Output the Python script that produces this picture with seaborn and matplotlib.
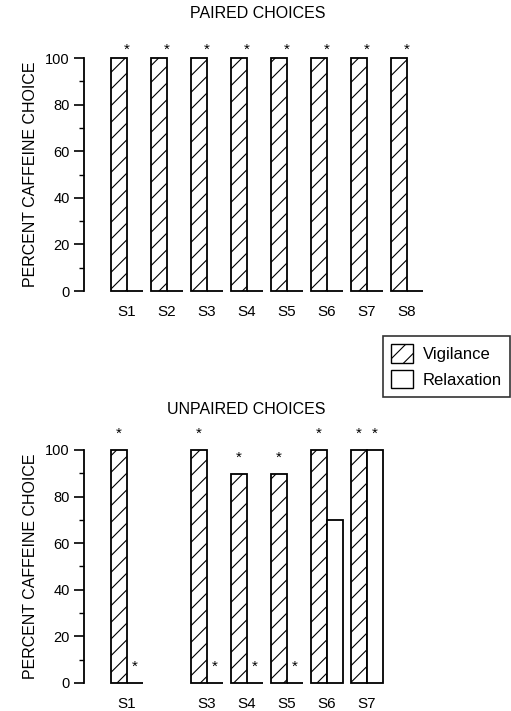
import pandas as pd
import numpy as np
import matplotlib.pyplot as plt
import seaborn as sns
from matplotlib.patches import Patch
from matplotlib.ticker import MultipleLocator

sns.set_style("ticks", {'text.color': 'black', 'axes.labelcolor': 'black',
                        'xtick.color': 'black', 'ytick.color': 'black',
                        'axes.edgecolor': 'black'})
plt.rcParams['font.family'] = ['Liberation Sans', 'DejaVu Sans']
plt.rcParams['hatch.linewidth'] = 0.8

# data
paired_subjects = ['S1', 'S2', 'S3', 'S4', 'S5', 'S6', 'S7', 'S8']
paired_vigilance = [100, 100, 100, 100, 100, 100, 100, 100]
paired_relaxation = [0, 0, 0, 0, 0, 0, 0, 0]

unpaired_order = ['S1', 'S2', 'S3', 'S4', 'S5', 'S6', 'S7']
unpaired_subjects = ['S1', 'S3', 'S4', 'S5', 'S6', 'S7']
unpaired_vigilance = [100, 100, 89.5, 89.5, 100, 100]
unpaired_relaxation = [0, 0, 0, 0, 70, 100]

conditions = ['Vigilance', 'Relaxation']


def long_df(subjects, vig, rel):
    return pd.DataFrame({
        'subject': subjects * 2,
        'condition': ['Vigilance'] * len(subjects) + ['Relaxation'] * len(subjects),
        'value': list(vig) + list(rel),
    })


fig = plt.figure(figsize=(5.11, 7.11), dpi=100)
ax1 = fig.add_axes([0.164, 0.5907, 0.679, 0.3277])
ax2 = fig.add_axes([0.164, 0.0394, 0.679, 0.3277])


def draw(ax, df, order):
    sns.barplot(data=df, x='subject', y='value', hue='condition', order=order,
                hue_order=conditions, palette=['white', 'white'], edgecolor='black',
                linewidth=1.3, width=0.8, legend=False, ax=ax)
    for i, p in enumerate(ax.patches):
        p.set_clip_on(False)
        if i < len(order):
            p.set_hatch('//')
    ax.set_xlim(-1.075, 7.6)
    ax.set_ylim(0, 100)
    ax.yaxis.set_major_locator(MultipleLocator(20))
    ax.yaxis.set_minor_locator(MultipleLocator(10))
    ax.tick_params(axis='y', which='major', length=7, width=1.2, labelsize=10.5, pad=3)
    ax.tick_params(axis='y', which='minor', length=3.5, width=1.0)
    ax.tick_params(axis='x', length=0, labelsize=11, pad=10)
    ax.set_xlabel('')
    ax.set_ylabel('PERCENT CAFFEINE CHOICE', fontsize=11.5, labelpad=5)
    for s in ['top', 'right', 'bottom']:
        ax.spines[s].set_visible(False)
    ax.spines['left'].set_linewidth(1.3)


draw(ax1, long_df(paired_subjects, paired_vigilance, paired_relaxation), paired_subjects)
draw(ax2, long_df(unpaired_subjects, unpaired_vigilance, unpaired_relaxation), unpaired_order)
ax2.set_xticks(range(len(unpaired_order)))
ax2.set_xticklabels(['S1', '', 'S3', 'S4', 'S5', 'S6', 'S7'])

fig.text(258 / 511, 1 - 14 / 711, 'PAIRED CHOICES', ha='center', va='center', fontsize=11.5)
fig.text(246 / 511, 1 - 410 / 711, 'UNPAIRED CHOICES', ha='center', va='center', fontsize=11.5)

# significance asterisks
for i in range(len(paired_subjects)):
    ax1.text(i, 100.5, '*', ha='center', va='bottom', fontsize=11)

for s, v, r in zip(unpaired_subjects, unpaired_vigilance, unpaired_relaxation):
    i = unpaired_order.index(s)
    ax2.text(i - 0.2, v + 4, '*', ha='center', va='bottom', fontsize=11)
    if r == 0:
        ax2.text(i + 0.2, 4, '*', ha='center', va='bottom', fontsize=11)
    elif r == 100:
        ax2.text(i + 0.2, r + 4, '*', ha='center', va='bottom', fontsize=11)

handles = [Patch(facecolor='white', edgecolor='black', hatch='//', label='Vigilance'),
           Patch(facecolor='white', edgecolor='black', label='Relaxation')]
leg = fig.legend(handles=handles, loc='upper left', bbox_to_anchor=(383 / 511, 1 - 336 / 711),
                 fontsize=12, frameon=True, fancybox=False, edgecolor='black',
                 handlelength=1.3, handleheight=1.3, handletextpad=0.6,
                 borderpad=0.5, labelspacing=0.45, borderaxespad=0)
leg.get_frame().set_linewidth(1.2)

fig.savefig('out.png', dpi=100)
